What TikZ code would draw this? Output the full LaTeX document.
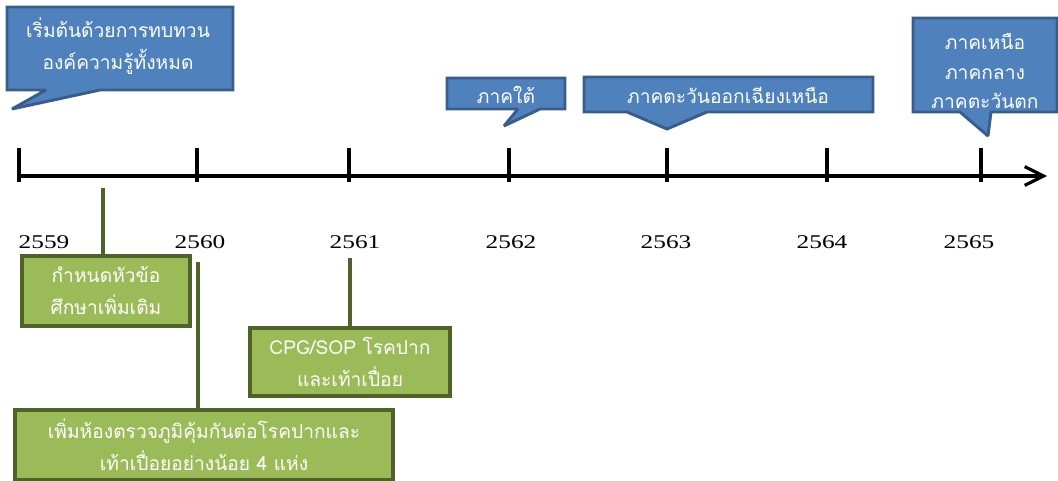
\documentclass[tikz,border=0pt]{standalone}
\usepackage{fontspec}
\setmainfont{Liberation Serif}[FakeStretch=1.3]
\newfontfamily\thaifont[Script=Thai]{Loma}
\usetikzlibrary{arrows.meta}
\definecolor{callblue}{HTML}{4F81BD}
\definecolor{callrim}{HTML}{385D8A}
\definecolor{boxgreen}{HTML}{9BBB59}
\definecolor{boxrim}{HTML}{4F6228}
\tikzset{
  callout/.style={fill=callblue, draw=callrim, line width=2.2pt, line join=miter, miter limit=2},
  calltext/.style={text=white, font=\thaifont\fontsize{14.4}{24}\selectfont, align=center, inner sep=0pt},
  topicbox/.style={fill=boxgreen, draw=boxrim, line width=2.4pt, text=white, font=\thaifont\fontsize{14.4}{24}\selectfont, align=center, inner sep=0pt},
  link/.style={draw=boxrim, line width=2.4pt},
  tick/.style={line width=2.4pt},
  year/.style={font=\fontsize{14.6}{16}\selectfont, inner sep=0pt}
}
\begin{document}
\begin{tikzpicture}[x=0.75pt, y=-0.75pt]
\useasboundingbox (0,0) rectangle (1058,481);
% callouts above the line
\filldraw[callout](7,7)--(233,7)--(233,90)--(100,90)--(12,109)--(46,90)--(7,90)--cycle;
\node[calltext] (review) at (118,46) {เริ่มต้นด้วยการทบทวน\\องค์ความรู้ทั้งหมด};
\filldraw[callout](447,78)--(565,78)--(565,109)--(540,109)--(504,126)--(518,109)--(447,109)--cycle;
\node[calltext] (south) at (506,95) {ภาคใต้};
\filldraw[callout](584,77)--(873,77)--(873,112)--(707,112)--(667,129)--(627,112)--(584,112)--cycle;
\node[calltext] (northeast) at (728,95) {ภาคตะวันออกเฉียงเหนือ};
\filldraw[callout](913,18)--(1057,18)--(1057,112)--(991,112)--(988,136)--(960,112)--(913,112)--cycle;
\node[calltext, font=\thaifont\fontsize{14.4}{22}\selectfont] (central) at (985,71) {ภาคเหนือ\\ภาคกลาง\\ภาคตะวันตก};

% time line
\coordinate (start) at (18,176);
\coordinate (end) at (1047,176);
\draw[tick, -{Straight Barb[length=14pt, width=14pt]}](start)--(end);
\foreach \x/\lx/\yr in {19/44/2559, 197/200/2560, 349/355/2561, 509/511/2562, 667/666/2563, 827/822/2564, 981/969/2565}
{
    \draw[tick](\x,148)--(\x,182);
    \node[year] (y\yr) at (\lx,242) {\yr};
}

% boxes below the line
\node[topicbox, minimum width=126pt, minimum height=52.5pt] (topic) at (106,291) {กำหนดหัวข้อ\\ศึกษาเพิ่มเติม};
\node[topicbox, minimum width=150pt, minimum height=51pt] (guide) at (350,362) {CPG/SOP โรคปาก\\และเท้าเปื่อย};
\node[topicbox, minimum width=283.5pt, minimum height=52.5pt] (lab) at (204,445) {เพิ่มห้องตรวจภูมิคุ้มกันต่อโรคปากและ\\เท้าเปื่อยอย่างน้อย 4 แห่ง};
\coordinate (a1) at (103,188);
\coordinate (a2) at (198,262);
\coordinate (a3) at (350,258);
\draw[link](a1)--(a1 |- topic.north);
\draw[link](a2)--(a2 |- lab.north);
\draw[link](a3)--(a3 |- guide.north);

\end{tikzpicture}
\end{document}
